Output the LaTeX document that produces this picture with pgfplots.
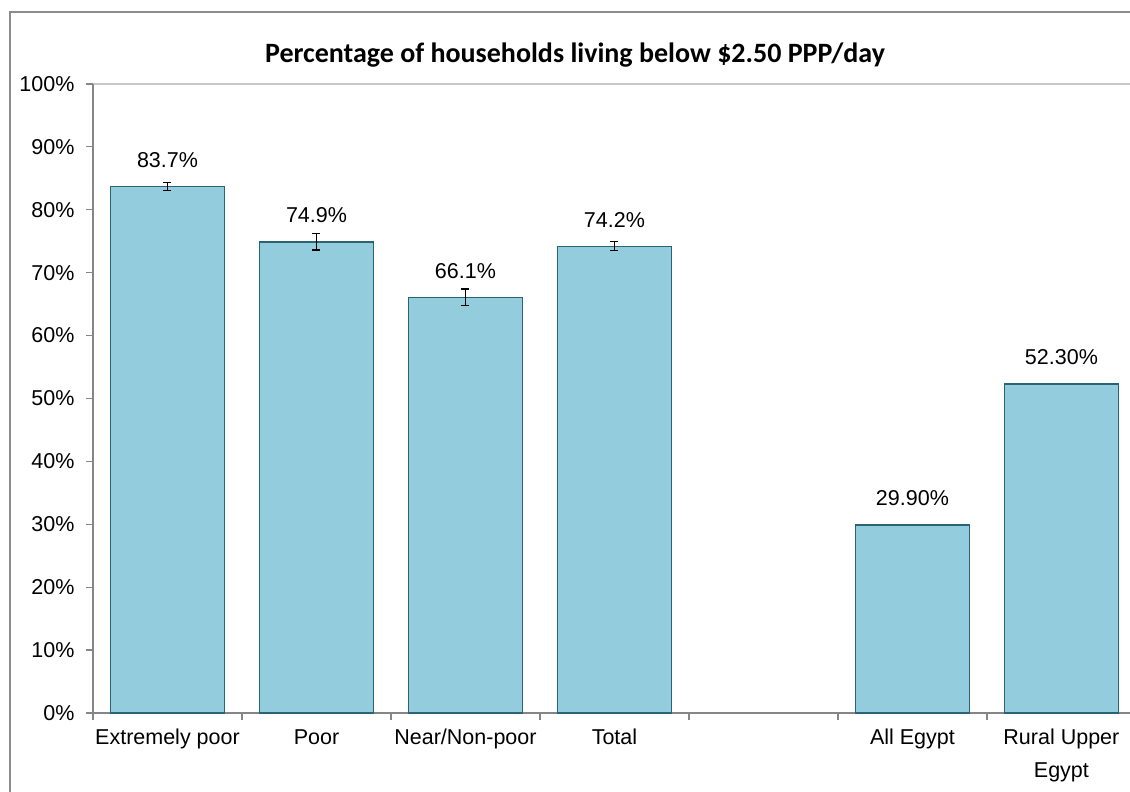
\documentclass[border=0pt]{standalone}
\usepackage{fontspec}
\setmainfont{Liberation Sans}
\newfontfamily\calibri{Carlito}
\usepackage{pgfplots}
\pgfplotsset{compat=1.18}
\definecolor{barfill}{RGB}{147,205,221}
\definecolor{baredge}{RGB}{40,100,118}
\definecolor{axgray}{RGB}{134,134,134}
\definecolor{framegray}{RGB}{140,140,140}
\definecolor{topgray}{RGB}{200,200,200}
\begin{document}
\begin{tikzpicture}
\useasboundingbox (0pt,0pt) rectangle (1130pt,792pt);
\draw[framegray, line width=1.5pt] (10pt,-20pt) -- (10pt,780pt) -- (1150pt,780pt);
\draw[topgray, line width=1.8pt] (93pt,708pt) -- (1150pt,708pt);
\node[font=\calibri\bfseries\fontsize{28}{32}\selectfont] at (575pt,737pt) {Percentage of households living below \$2.50 PPP/day};
\begin{axis}[
  at={(93pt,79pt)}, anchor=south west, scale only axis,
  width=1043pt, height=629pt,
  xmin=-0.5, xmax=6.5, ymin=0, ymax=100,
  axis lines*=left,
  axis line style={axgray, line width=1.5pt},
  tick style={axgray, line width=1.2pt},
  tick align=outside, major tick length=7pt,
  xtick={-0.5,0.5,...,6.5},
  x tick label as interval,
  typeset ticklabels with strut,
  xticklabels={Extremely poor, Poor, Near/Non-poor, Total, {}, All Egypt, {Rural Upper\\[8pt]Egypt}},
  xticklabel style={align=center, yshift=-3pt},
  ytick={0,10,...,100},
  yticklabel={\pgfmathprintnumber{\tick}\%},
  yticklabel style={xshift=-8pt},
  every tick label/.append style={font=\fontsize{21.5}{25}\selectfont, text=black},
  /pgf/number format/assume math mode=true,
  clip=false,
]
\addplot[ybar, bar width=114pt, bar shift=0pt, fill=barfill, draw=baredge, line width=1.3pt,
  nodes near coords={\pgfmathprintnumber[fixed,precision=1,fixed zerofill]{\pgfplotspointmeta}\%},
  nodes near coords align={anchor=south},
  every node near coord/.append style={font=\fontsize{21.5}{25}\selectfont, text=black, yshift=15pt},
  error bars/.cd, y dir=both, y explicit,
  error bar style={black, line width=1.2pt},
  error mark options={black, line width=1.2pt, mark size=4pt, rotate=90}]
coordinates {(0,83.7) +- (0,0.65) (1,74.9) +- (0,1.3) (2,66.1) +- (0,1.3) (3,74.2) +- (0,0.7)};
\addplot[ybar, bar width=114pt, bar shift=0pt, fill=barfill, draw=baredge, line width=1.3pt,
  nodes near coords={\pgfmathprintnumber[fixed,precision=2,fixed zerofill]{\pgfplotspointmeta}\%},
  nodes near coords align={anchor=south},
  every node near coord/.append style={font=\fontsize{21.5}{25}\selectfont, text=black, yshift=15pt}]
coordinates {(5,29.9) (6,52.3)};
\end{axis}
\end{tikzpicture}
\end{document}
